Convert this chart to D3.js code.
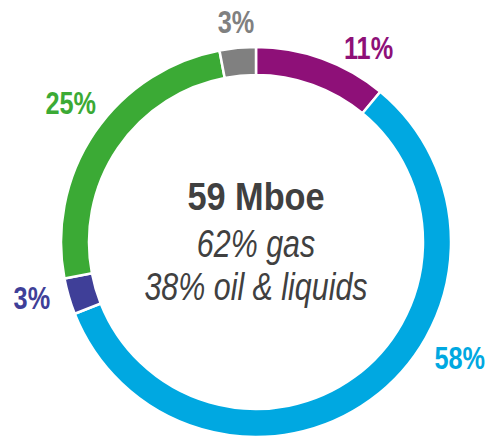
<!DOCTYPE html>
<html><head><meta charset="utf-8">
<script src="https://cdn.jsdelivr.net/npm/d3@7"></script>
<style>
html,body{margin:0;padding:0;background:#fff;}
svg{display:block;}
text{font-family:"Liberation Sans Narrow","Arial Narrow","Liberation Sans",sans-serif;}
</style></head>
<body>
<svg id="chart" width="487" height="439"></svg>
<script>
// Data
const categories = ["Purple", "Blue", "Indigo", "Green", "Gray"];
const values = [11, 58, 3, 25, 3];
const labels = ["11%", "58%", "3%", "25%", "3%"];
const colors = ["#8E1078", "#00A8E1", "#3F3F98", "#3BAA35", "#808080"];
const centerTitle = "59 Mboe";
const centerLines = ["62% gas", "38% oil & liquids"];

// Layout (label placement: angle in degrees clockwise from top, radius)
const labelAngle = [30, 119.5, -104, -53, -5.2];
const labelRadius = [225, 234, 231, 232, 221];
const narrow = 0.79;

const svg = d3.select("#chart");
const cx = 256, cy = 242, rOuter = 195, rInner = 167;
const g = svg.append("g").attr("transform", `translate(${cx},${cy})`);

const pie = d3.pie().sort(null).value(d => d);
const arcs = pie(values);
const arc = d3.arc().innerRadius(rInner).outerRadius(rOuter);

g.selectAll("path.slice").data(arcs).join("path")
  .attr("class", "slice")
  .attr("d", arc)
  .attr("fill", (d, i) => colors[i])
  .attr("stroke", "#fff")
  .attr("stroke-width", 2.5);

const lbl = g.selectAll("g.lbl").data(arcs).join("g")
  .attr("class", "lbl")
  .attr("transform", (d, i) => {
    const a = labelAngle[i] * Math.PI / 180;
    return `translate(${labelRadius[i] * Math.sin(a)},${-labelRadius[i] * Math.cos(a)}) scale(${narrow},1)`;
  });
lbl.append("text")
  .attr("dy", "0.36em")
  .attr("text-anchor", "middle")
  .attr("font-weight", "bold")
  .attr("font-size", 32)
  .attr("fill", (d, i) => colors[i])
  .text((d, i) => labels[i]);

g.append("g")
  .attr("transform", `translate(0,${210 - cy}) scale(0.88,1)`)
  .append("text")
  .attr("text-anchor", "middle")
  .attr("font-weight", "bold")
  .attr("font-size", 39)
  .attr("fill", "#404040")
  .text(centerTitle);

g.selectAll("g.sub").data(centerLines).join("g")
  .attr("class", "sub")
  .attr("transform", (d, i) => `translate(0,${[257, 300][i] - cy}) scale(0.78,1)`)
  .append("text")
  .attr("text-anchor", "middle")
  .attr("font-style", "italic")
  .attr("font-size", 39)
  .attr("fill", "#404040")
  .text(d => d);
</script>
</body></html>
